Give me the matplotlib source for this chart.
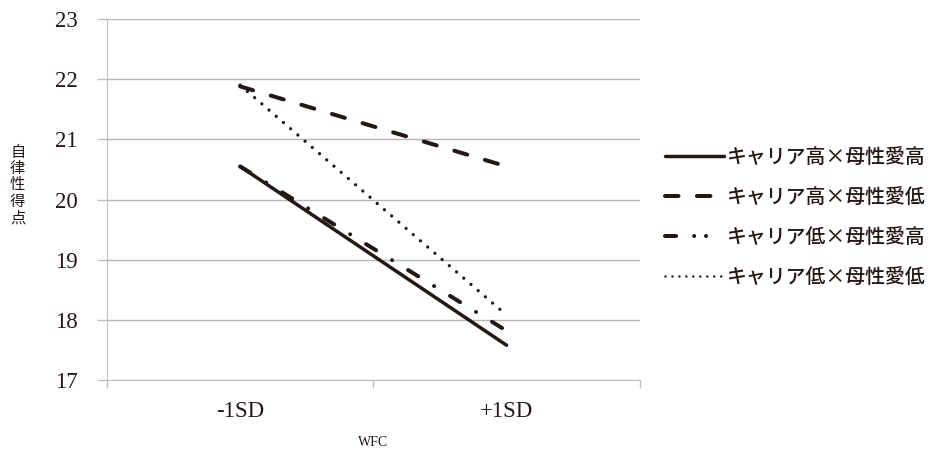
import numpy as np
import matplotlib.pyplot as plt
from matplotlib.lines import Line2D

# データ
categories = ['-1SD', '+1SD']
series_names = ['キャリア高×母性愛高', 'キャリア高×母性愛低',
                'キャリア低×母性愛高', 'キャリア低×母性愛低']
high_high = [20.55, 17.58]
high_low = [21.88, 20.55]
low_high = [20.55, 17.82]
low_low = [21.90, 18.08]
y_ticks = [17, 18, 19, 20, 21, 22, 23]

# 破線パターンを線幅に比例させない（ポイント指定）
plt.rcParams['lines.scale_dashes'] = False

series = [high_high, high_low, low_high, low_low]
styles = ['-', (0, (9.7, 13.3)), (0, (8.5, 13.5, 0.01, 13.5)), (0, (0.01, 6.85))]
widths = [2.5, 2.9, 2.9, 2.4]
ink = '#231815'

fig = plt.figure(figsize=(9.3, 4.51), dpi=100)
ax = fig.add_axes([0.115, 0.157, 0.573, 0.801])

x = np.arange(len(categories)) + 0.5
handles = []
for vals, name, ls, lw in zip(series, series_names, styles, widths):
    ln, = ax.plot(x, vals, color=ink, linestyle=ls, linewidth=lw,
                  dash_capstyle='round', solid_capstyle='round', label=name)
    handles.append(ln)

# 凡例の一点鎖線は「ー・・」の見た目
handles[2] = Line2D([], [], color=ink, linewidth=2.9, dash_capstyle='round',
                    linestyle=(0, (8, 13, 0.01, 8.5, 0.01, 20)))
handles[3] = Line2D([], [], color=ink, linewidth=1.8, dash_capstyle='round',
                    linestyle=(0, (0.01, 5)))

ax.set_xlim(0, len(categories))
ax.set_ylim(17, 23)
ax.set_yticks(y_ticks)
ax.yaxis.grid(True, color='#b5b5b5', linewidth=1)
ax.set_axisbelow(True)

ax.set_xticks(np.arange(len(categories) + 1))
ax.set_xticklabels([])
ax.set_xticks(x, minor=True)
ax.set_xticklabels(categories, minor=True, fontsize=16.5, family='Liberation Serif', color=ink)
ax.tick_params(axis='x', which='minor', length=0, pad=15)
ax.tick_params(axis='x', which='major', length=6, color='#c0c0c0', width=1)
ax.tick_params(axis='y', length=7, color='#c0c0c0', width=1, pad=14)
for lab in ax.get_yticklabels():
    lab.set_family('Liberation Serif')
    lab.set_fontsize(16.5)
    lab.set_color(ink)

for s in ['top', 'right']:
    ax.spines[s].set_visible(False)
ax.spines['left'].set_color('#c0c0c0')
ax.spines['bottom'].set_color('#c0c0c0')

ax.set_xlabel('WFC', fontsize=10, family='Liberation Serif', labelpad=10, color=ink)
fig.text(0.019, 0.59, '自\n律\n性\n得\n点', fontsize=11, family='Noto Sans CJK JP',
         ha='center', va='center', linespacing=0.95, color=ink)

leg = ax.legend(handles, series_names, loc='center left', bbox_to_anchor=(1.013, 0.45),
                frameon=False, handlelength=3.0, handletextpad=0.1, labelspacing=1.05,
                prop={'family': 'Noto Sans CJK JP', 'size': 14.3, 'weight': 'medium'})
for t in leg.get_texts():
    t.set_color(ink)

fig.savefig('out.png', dpi=100)
